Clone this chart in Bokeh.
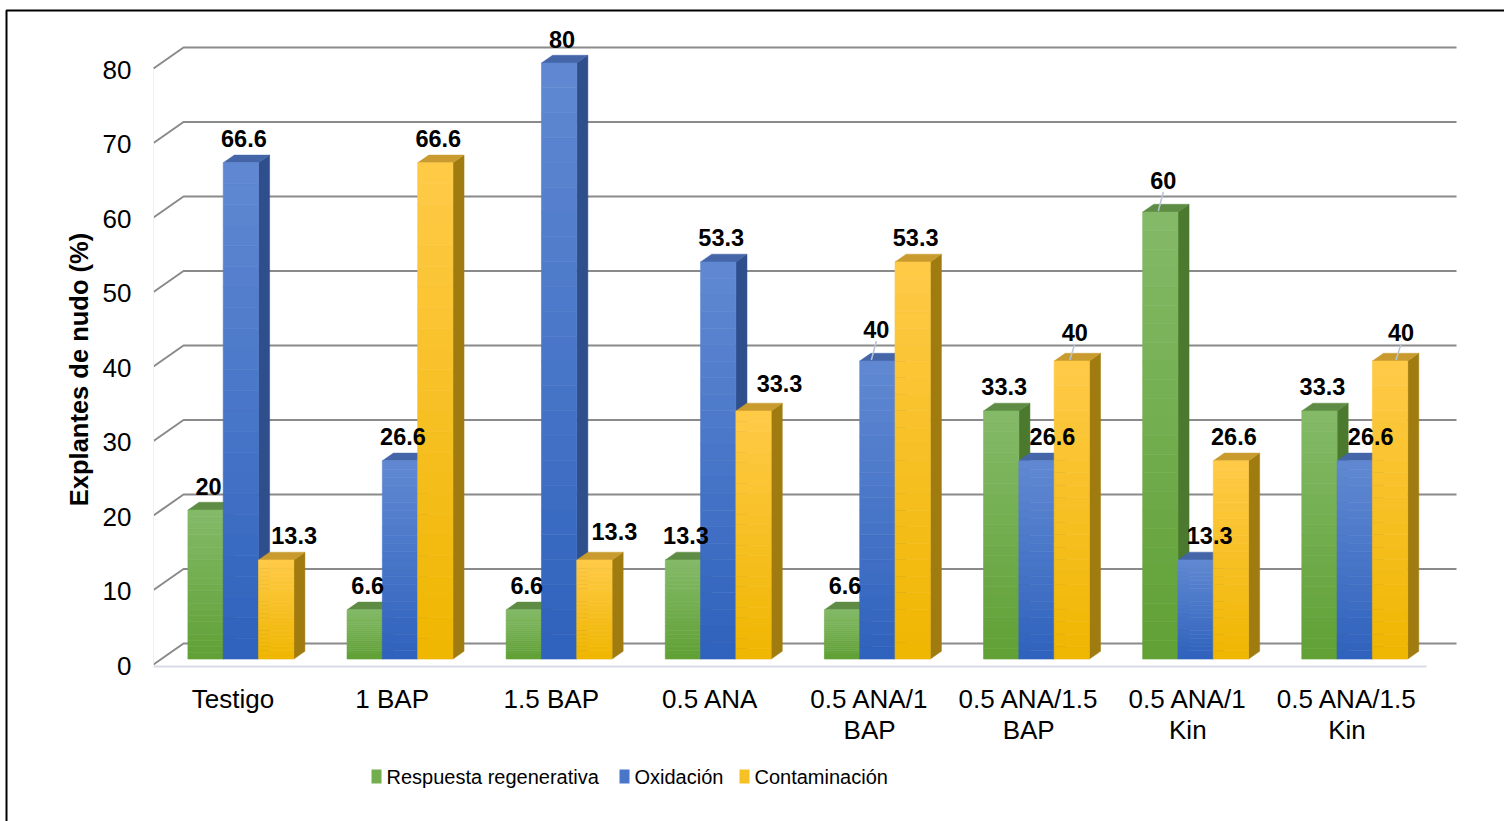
import numpy as np
from bokeh.plotting import figure
from bokeh.models import Range1d
from bokeh.core.properties import value
from bokeh.embed import file_html
from bokeh.resources import INLINE

# ---------------- data ----------------
categories = ["Testigo", "1 BAP", "1.5 BAP", "0.5 ANA", "0.5 ANA/1\nBAP",
              "0.5 ANA/1.5\nBAP", "0.5 ANA/1\nKin", "0.5 ANA/1.5\nKin"]
respuesta = [20, 6.6, 6.6, 13.3, 6.6, 33.3, 60, 33.3]
oxidacion = [66.6, 26.6, 80, 53.3, 40, 26.6, 13.3, 26.6]
contaminacion = [13.3, 66.6, 13.3, 33.3, 53.3, 40, 26.6, 40]
series_names = ["Respuesta regenerativa", "Oxidación", "Contaminación"]
y_ticks = [0, 10, 20, 30, 40, 50, 60, 70, 80]
y_title = "Explantes de nudo (%)"

# ---------------- style ----------------
front_top = ["#84ba68", "#6189d2", "#ffca48"]
front_bot = ["#60a035", "#2f62bd", "#efb600"]
side_col = ["#4b7a2f", "#2f4e8c", "#a07c10"]
top_col = ["#5e8c44", "#4465a8", "#c99b2f"]
# label nudges in px (dx right, dy down) keyed by (category, series)
label_nudge = {(0, 2): (15, 0), (2, 2): (17, -4), (3, 2): (23, -3),
               (4, 1): (-4, -8), (5, 1): (13, 0), (5, 2): (0, -5),
               (6, 0): (0, -8), (6, 1): (11, 0), (7, 1): (13, 0), (7, 2): (8, -5)}
leaders = [(4, 1), (5, 2), (6, 0), (7, 2)]

W, H = 1504, 821
XPX = 159.125   # px per category
YPX = 7.45      # px per value unit
X0, Y0 = 153.0, 664.0


def X(px):
    return (px - X0) / XPX


def Y(py):
    return (Y0 - py) / YPX


def dx(p):
    return p / XPX


def dy(p):
    return -p / YPX


DEPX, DEPY = dx(30), dy(-21)  # full depth offset (data units)
D1, DD = 0.26, 0.37
BW = dx(35.3)


def mix(c1, c2, t):
    a = [int(c1[i:i + 2], 16) for i in (1, 3, 5)]
    b = [int(c2[i:i + 2], 16) for i in (1, 3, 5)]
    return "#%02x%02x%02x" % tuple(int(round(a[k] + (b[k] - a[k]) * t)) for k in range(3))


p = figure(width=W, height=H, x_range=Range1d(X(0), X(W)), y_range=Range1d(Y(H), Y(0)),
           output_backend="svg", toolbar_location=None, min_border=0,
           x_axis_location=None, y_axis_location=None, outline_line_color=None)
p.grid.visible = False
p.background_fill_color = "white"
p.border_fill_color = "white"

# border (top and left edges)
p.line([X(6), X(6), X(W + 5)], [Y(H + 5), Y(10), Y(10)], line_color="black", line_width=2)

# gridlines (left wall slant + back wall)
gx, gy = [], []
for t in y_ticks:
    gx.append([0, DEPX, 8 + DEPX])
    gy.append([t, t + DEPY, t + DEPY])
p.multi_line(gx, gy, line_color="#8a8a8a", line_width=2)
# faint left wall edge and floor edge
p.line([0, 0], [0, 80], line_color="#f0f0f0", line_width=1)
p.line([0, 8], [dy(2), dy(2)], line_color="#d9dce6", line_width=2)

# bars
values = [respuesta, oxidacion, contaminacion]
px_list, py_list, pc = [], [], []
ql, qr, qt, qb, qc = [], [], [], [], []
NB = 24
lab_x, lab_y, lab_t = [], [], []
ldx, ldy = [], []
for i in range(len(categories)):
    for s in range(3):
        v = values[s][i]
        xl = i + 0.5 - 1.5 * BW + s * BW + D1 * DEPX
        xr = xl + BW
        yb = D1 * DEPY
        yt = v + D1 * DEPY
        ox, oy = DD * DEPX, DD * DEPY
        # side face
        px_list.append([xr, xr, xr + ox, xr + ox])
        py_list.append([yb, yt, yt + oy, yb + oy])
        pc.append(side_col[s])
        # top face
        px_list.append([xl, xr, xr + ox, xl + ox])
        py_list.append([yt, yt, yt + oy, yt + oy])
        pc.append(top_col[s])
        # front gradient
        edges = np.linspace(yb, yt, NB + 1)
        for k in range(NB):
            ql.append(xl)
            qr.append(xr)
            qb.append(edges[k])
            qt.append(edges[k + 1])
            qc.append(mix(front_bot[s], front_top[s], (k + 0.5) / NB))
        # label
        ndx, ndy = label_nudge.get((i, s), (0, 0))
        lx = (xl + xr) / 2 + dx(3) + dx(ndx)
        ly = yt + dy(-24) + dy(ndy)
        lab_x.append(lx)
        lab_y.append(ly)
        lab_t.append(("%g" % v))
        if (i, s) in leaders:
            ldx.append([lx - dx(5), lx])
            ldy.append([yt + dy(-1), ly + dy(12)])

p.patches(px_list, py_list, fill_color=pc, line_color=pc, line_width=0.5)
p.quad(left=ql, right=qr, top=qt, bottom=qb, fill_color=qc, line_color=qc, line_width=0.6)
p.multi_line(ldx, ldy, line_color="#b7c4d6", line_width=1.5)

p.text(lab_x, lab_y, text=lab_t, text_font=value("Liberation Sans"), text_font_style="bold",
       text_font_size="23.5px", text_align="center", text_baseline="middle", text_color="black")

# y tick labels
p.text([X(131)] * len(y_ticks), [t + dy(1) for t in y_ticks], text=[str(t) for t in y_ticks],
       text_font=value("Liberation Sans"), text_font_size="26px", text_align="right",
       text_baseline="middle", text_color="black")

# y title
p.text([X(78)], [Y(369)], text=[y_title], angle=np.pi / 2, text_font=value("Liberation Sans"),
       text_font_style="bold", text_font_size="25.5px", text_align="center",
       text_baseline="middle", text_color="black")

# category labels
cx, cy, ct = [], [], []
for i, c in enumerate(categories):
    for j, line in enumerate(c.split("\n")):
        cx.append(i + 0.5)
        cy.append(Y(698 + 31 * j))
        ct.append(line)
p.text(cx, cy, text=ct, text_font=value("Liberation Sans"), text_font_size="26px",
       text_align="center", text_baseline="middle", text_color="black")

# legend
leg_sq_x = [376, 624, 744]
leg_tx = [386, 634, 754]
p.rect([X(a) for a in leg_sq_x], [Y(776)] * 3, width=dx(10), height=-dy(14),
       fill_color=[mix(front_bot[s], front_top[s], 0.5) for s in range(3)], line_color=None)
p.text([X(a) for a in leg_tx], [Y(776)] * 3, text=series_names,
       text_font=value("Liberation Sans"), text_font_size="20px",
       text_align="left", text_baseline="middle", text_color="black")

open("out.html", "w").write(file_html(p, INLINE))
